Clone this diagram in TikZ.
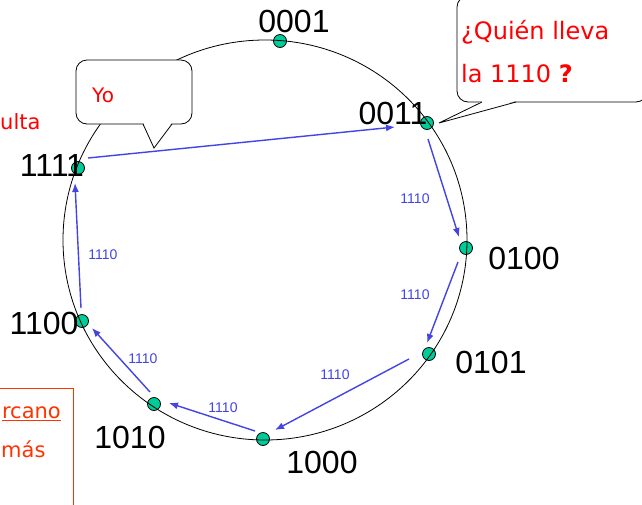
\documentclass[tikz,border=0pt]{standalone}
\usepackage{fontspec}
\setmainfont{Liberation Sans}
\newfontfamily\redfont{DejaVu Sans}
\usetikzlibrary{arrows.meta}
\definecolor{dotteal}{RGB}{0,204,153}
\definecolor{arrowblue}{RGB}{68,68,228}
\definecolor{orred}{RGB}{255,51,0}
\definecolor{txtred}{RGB}{255,0,0}
\begin{document}
\begin{tikzpicture}[x=1pt,y=-1pt,
  dot/.style={circle,draw=black,fill=dotteal,line width=0.8pt,inner sep=0pt,minimum size=13pt},
  lbl/.style={font=\fontsize{32}{34}\selectfont,inner sep=0pt},
  flow/.style={draw=arrowblue,line width=1.4pt,-{Latex[length=9pt,width=7pt]}},
  flowlbl/.style={text=arrowblue,font=\fontsize{14}{16}\selectfont,inner sep=0pt},
  bubble/.style={draw=black,fill=white,line width=0.8pt,rounded corners=11pt,inner sep=0pt},
  redtxt/.style={text=txtred,inner sep=0pt,anchor=base west},
  boxtxt/.style={text=orred,inner sep=0pt,font=\redfont\fontsize{21}{21}\selectfont}]
\useasboundingbox (0,0) rectangle (642,504);
\fill[white] (0,0) rectangle (642,504);

% dots on the ring
\node[dot] (d0001) at (280,41) {};
\node[dot] (d0011) at (427,123) {};
\node[dot] (d0100) at (466,248) {};
\node[dot] (d0101) at (429,354) {};
\node[dot] (d1000) at (263,439) {};
\node[dot] (d1010) at (154,404) {};
\node[dot] (d1100) at (82,321) {};
\node[dot] (d1111) at (78,168) {};

% ring
\draw[line width=0.8pt] (265,240) ellipse [x radius=202pt, y radius=200pt];

% labels
\node[lbl] (t0001) at (294,21) {0001};
\node[lbl] (t0011) at (393,113) {0011};
\node[lbl] (t0100) at (524,258) {0100};
\node[lbl] (t0101) at (491,362) {0101};
\node[lbl] (t1000) at (322,462) {1000};
\node[lbl] (t1010) at (130,437) {1010};
\node[lbl] (t1100) at (44,323) {1100};
\node[lbl] (t1111) at (52,165) {1111};

% arrows
\draw[flow] ([shift={(10,-10)}]d1111.center) -- ([shift={(-32,4)}]d0011.center);
\draw[flow] ([shift={(1,16)}]d0011.center) -- ([shift={(-7,-11)}]d0100.center);
\draw[flow] ([shift={(-8,14)}]d0100.center) -- ([shift={(-2,-11)}]d0101.center);
\draw[flow] ([shift={(-20,5)}]d0101.center) -- ([shift={(12,-9)}]d1000.center);
\draw[flow] ([shift={(-8,-8)}]d1000.center) -- ([shift={(15,-1)}]d1010.center);
\draw[flow] ([shift={(-4,-12)}]d1010.center) -- ([shift={(10,7)}]d1100.center);
\draw[flow] ([shift={(-1,-13)}]d1100.center) -- ([shift={(-3,15)}]d1111.center);

\node[flowlbl] (l1) at (415,199) {1110};
\node[flowlbl] (l2) at (415,295) {1110};
\node[flowlbl] (l3) at (335,375) {1110};
\node[flowlbl] (l4) at (223,408) {1110};
\node[flowlbl] (l5) at (143,359) {1110};
\node[flowlbl] (l6) at (103,255) {1110};

% "Yo" bubble
\node[bubble,minimum width=116pt,minimum height=64pt] (yobox) at (134,92) {};
\coordinate (yotip) at (154,148);
\fill[white] (143.5,123) -- (171.5,123) -- (yotip) -- cycle;
\draw[line width=0.8pt] (143,124) -- (yotip) -- (172,124);
\node[redtxt,font=\redfont\fontsize{20}{20}\selectfont] (yo) at (92,102) {Yo};

% question bubble
\node[bubble,minimum width=190pt,minimum height=106pt] (qbox) at (552,49) {};
\coordinate (qtip) at (439,123);
\fill[white] (482.5,101) -- (515.5,101) -- (qtip) -- cycle;
\draw[line width=0.8pt] (482,102) -- (qtip) -- (516,102);
\node[redtxt,font=\redfont\fontsize{24}{24}\selectfont] (q1) at (461,39) {¿Quién lleva};
\node[redtxt,font=\redfont\fontsize{24}{24}\selectfont] (q2) at (461,82) {la 1110 \textbf{?}};

% left fragments
\node[redtxt,font=\redfont\fontsize{21}{21}\selectfont] (ulta) at (0,129) {ulta};
\draw[orred,line width=0.8pt] (-5,388) -- (73,388) -- (73,510);
\node[boxtxt,anchor=base east] (rcano) at (61,418) {\underline{rcano}};
\node[boxtxt,anchor=base west] (mas) at (1,457) {más};
\end{tikzpicture}
\end{document}
